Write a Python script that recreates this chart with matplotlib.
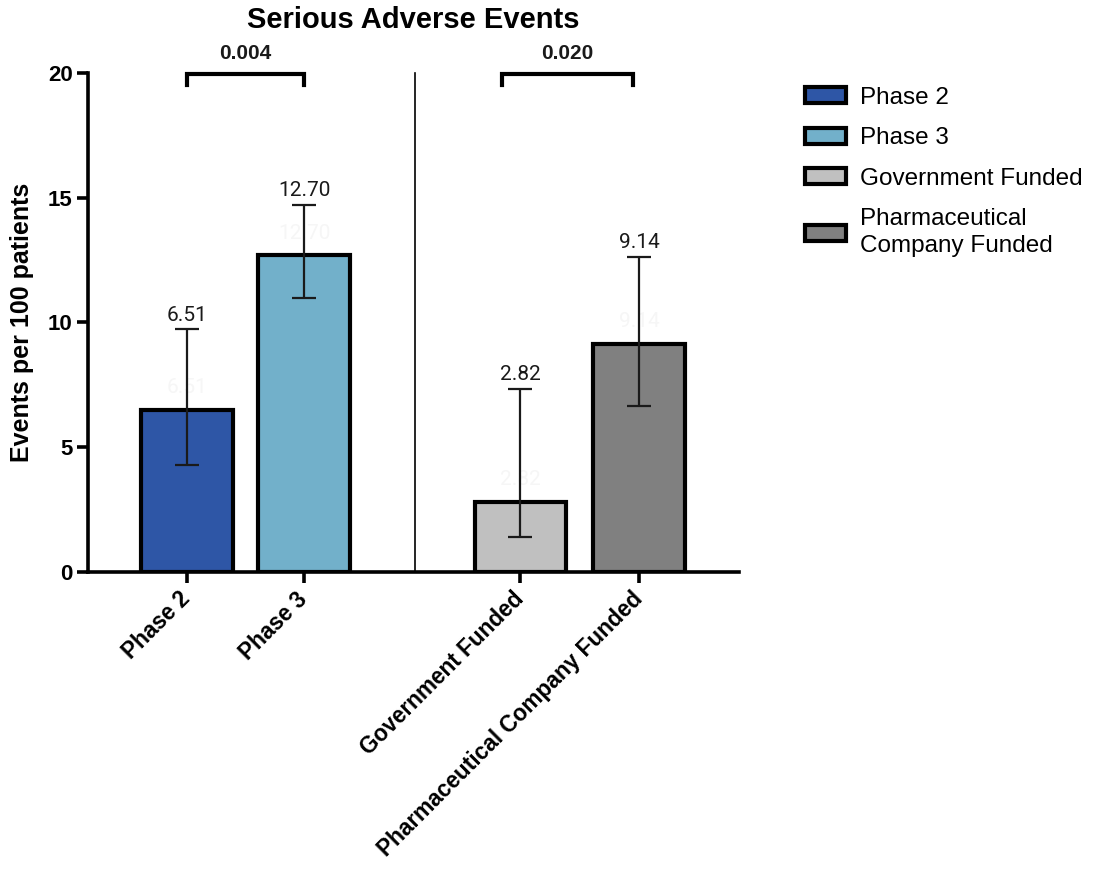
import matplotlib
matplotlib.use("Agg")
import matplotlib.pyplot as plt
from matplotlib.patches import Patch

# Data
categories = ["Phase 2", "Phase 3", "Government Funded", "Pharmaceutical Company Funded"]
legend_labels = ["Phase 2", "Phase 3", "Government Funded", "Pharmaceutical\nCompany Funded"]
rates = [6.51, 12.70, 2.82, 9.14]
ci_low = [4.30, 10.98, 1.40, 6.65]
ci_high = [9.72, 14.70, 7.33, 12.63]
p_labels = ["0.004", "0.020"]
bar_colors = ["#2e56a6", "#72b0ca", "#c0c0c0", "#808080"]

positions = [0.0, 1.0, 2.84, 3.85]

plt.rcParams["font.family"] = ["Liberation Sans", "DejaVu Sans"]

fig = plt.figure(figsize=(10.93, 8.69), dpi=100)
ax = fig.add_axes([0.0805, 0.3418, 0.5956, 0.5742])

bars = ax.bar(positions, rates, width=0.78, color=bar_colors,
              edgecolor="black", linewidth=3.0, zorder=2)

yerr = [[r - lo for r, lo in zip(rates, ci_low)],
        [hi - r for r, hi in zip(rates, ci_high)]]
ax.errorbar(positions, rates, yerr=yerr, fmt="none", ecolor="#1a1a1a",
            elinewidth=1.6, capsize=8.6, capthick=1.6, zorder=3)

# value labels above the upper interval bound
for x, r, hi in zip(positions, rates, ci_high):
    ax.annotate(f"{r:.2f}", (x, hi), xytext=(0, 3.5), textcoords="offset points",
                ha="center", va="bottom", fontsize=15, family="Roboto",
                color="#1a1a1a")
    # faint duplicate label sitting just above the bar top
    ax.annotate(f"{r:.2f}", (x, r), xytext=(0, 9), textcoords="offset points",
                ha="center", va="bottom", fontsize=15, family="Roboto",
                color="#f6f6f6", zorder=1)

# group divider
ax.plot([1.94, 1.94], [0, 20], color="black", linewidth=1.2, clip_on=False, zorder=1)

# significance brackets
brackets = [(0.0, 1.0), (2.68, 3.80)]
for (x0, x1), lab in zip(brackets, p_labels):
    ax.plot([x0, x0, x1, x1], [19.5, 19.97, 19.97, 19.5], color="black",
            linewidth=3.0, clip_on=False, solid_joinstyle="miter", zorder=4)
    ax.text((x0 + x1) / 2, 20.4, lab, ha="center", va="bottom",
            fontsize=15, fontweight="bold", color="#1a1a1a")

ax.set_xlim(-0.84, 4.70)
ax.set_ylim(0, 20)
ax.set_yticks([0, 5, 10, 15, 20])
ax.set_xticks(positions)
ax.set_xticklabels(categories, rotation=45, ha="right", va="center",
                   rotation_mode="anchor", fontsize=16.3, fontweight="bold")
for lab in ax.get_yticklabels():
    lab.set_fontsize(16)
    lab.set_fontweight("bold")

for side in ["top", "right"]:
    ax.spines[side].set_visible(False)
for side in ["left", "bottom"]:
    ax.spines[side].set_linewidth(2.6)
ax.tick_params(axis="both", length=8, width=2.6, pad=3)
ax.tick_params(axis="x", pad=9)

ax.set_ylabel("Events per 100 patients", fontsize=18, fontweight="bold")
ax.yaxis.set_label_coords(-0.083, 0.5)

fig.text(413 / 1093, 1 - 20 / 869, "Serious Adverse Events", ha="center",
         va="center", fontsize=21, fontweight="bold")

handles = [Patch(facecolor=c, edgecolor="black", linewidth=3.0) for c in bar_colors]
leg = fig.legend(handles, legend_labels, loc="upper left",
                 bbox_to_anchor=(0.7365, 0.900), frameon=False, fontsize=17.5,
                 handlelength=1.7, handleheight=0.65, handletextpad=0.55,
                 labelspacing=0.76, borderpad=0, borderaxespad=0)
for t in leg.get_texts():
    t.set_linespacing(1.3)

fig.savefig("out.png", dpi=100)
